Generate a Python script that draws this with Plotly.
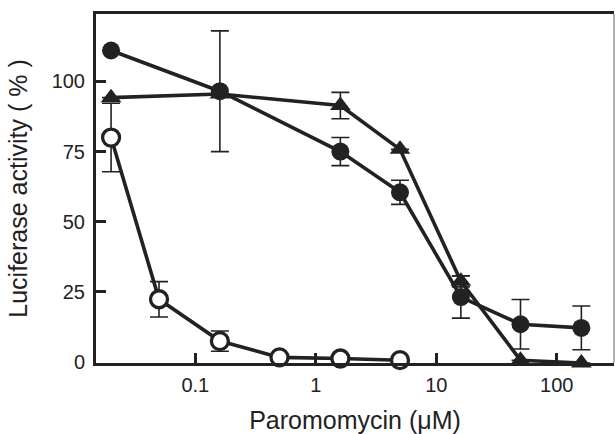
import plotly.graph_objects as go

# Data
conc_filled = [0.02, 0.16, 1.6, 5, 16, 50, 160]
act_filled_circle = [111, 96.5, 75, 60.5, 23.2, 13.5, 12.2]
err_filled_circle = [0, 21.5, 5, 4.3, 7.5, 8.8, 7.8]

act_triangle = [94.2, 95.5, 91.4, 75.8, 28.8, 0.7, -0.3]
err_triangle = [0, 0, 4.7, 0, 2.0, 0, 0]

conc_open = [0.02, 0.05, 0.16, 0.5, 1.6, 5]
act_open_circle = [80, 22.4, 7.5, 1.7, 1.3, 0.7]
err_open_circle = [12.2, 6.3, 3.6, 1.0, 0.5, 0.5]

x_ticks = [0.1, 1, 10, 100]
x_tick_labels = ["0.1", "1", "10", "100"]
y_ticks = [0, 25, 50, 75, 100]

ink = "#222222"
font_family = "Liberation Sans, Arial, sans-serif"

def err(vals):
    return dict(type="data", array=vals, visible=True, color=ink, thickness=1.6, width=9)

fig = go.Figure()

fig.add_trace(go.Scatter(
    x=conc_open, y=act_open_circle, mode="lines+markers",
    line=dict(color=ink, width=3.6),
    marker=dict(symbol="circle", size=17, color="white", line=dict(color=ink, width=3.3)),
    error_y=err(err_open_circle), cliponaxis=False, showlegend=False))

fig.add_trace(go.Scatter(
    x=conc_filled, y=act_triangle, mode="lines+markers",
    line=dict(color=ink, width=3.6),
    marker=dict(symbol="triangle-up", size=18, color=ink),
    error_y=err(err_triangle), cliponaxis=False, showlegend=False))

fig.add_trace(go.Scatter(
    x=conc_filled, y=act_filled_circle, mode="lines+markers",
    line=dict(color=ink, width=3.6),
    marker=dict(symbol="circle", size=18, color=ink),
    error_y=err(err_filled_circle), cliponaxis=False, showlegend=False))

# right border (thin grey)
fig.add_shape(type="line", xref="paper", yref="paper", x0=1, x1=1, y0=0, y1=1,
              line=dict(color="#999999", width=1.5))

fig.update_layout(
    width=615, height=434,
    margin=dict(l=96, r=1, t=14, b=71),
    paper_bgcolor="white", plot_bgcolor="white",
    font=dict(family=font_family, color=ink, size=20),
    xaxis=dict(
        type="log", range=[-1.824, 2.475],
        tickvals=x_ticks, ticktext=x_tick_labels,
        ticks="inside", ticklen=10, tickwidth=3, tickcolor=ink,
        showline=True, linewidth=3, linecolor=ink, mirror=True,
        showgrid=False, zeroline=False,
        tickfont=dict(size=20, color=ink),
        ticklabelstandoff=2,
        title=dict(text="Paromomycin (\u03bcM)", font=dict(size=25, color=ink), standoff=19),
    ),
    yaxis=dict(
        range=[0 - 0.3, 124],
        tickvals=y_ticks,
        ticks="inside", ticklen=10, tickwidth=3, tickcolor=ink,
        showline=True, linewidth=3, linecolor=ink, mirror=False,
        showgrid=False, zeroline=False,
        tickfont=dict(size=20, color=ink),
        ticklabelstandoff=4,
        title=dict(text="Luciferase activity ( % )", font=dict(size=25, color=ink), standoff=17),
    ),
)

fig.write_html("out.html", config={"displayModeBar": False},
               post_script="document.body.style.margin='0';document.body.style.overflow='hidden';")
